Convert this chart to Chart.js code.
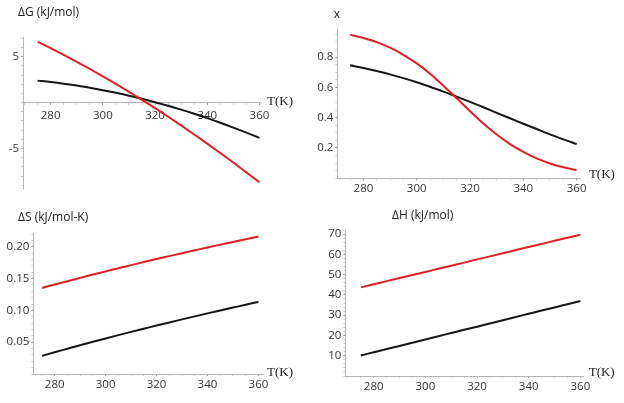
<!DOCTYPE html>
<html>
<head>
<meta charset="utf-8">
<script src="https://cdn.jsdelivr.net/npm/chart.js@4.4.1/dist/chart.umd.min.js"></script>
<style>
  body { margin: 0; background: #fff; }
  #wrap { position: relative; width: 624px; height: 403px; }
  canvas { position: absolute; }
</style>
</head>
<body>
<div id="wrap">
  <canvas id="panelG" width="312" height="200" style="left:0;top:0"></canvas>
  <canvas id="panelX" width="312" height="200" style="left:312px;top:0"></canvas>
  <canvas id="panelS" width="312" height="203" style="left:0;top:200px"></canvas>
  <canvas id="panelH" width="312" height="203" style="left:312px;top:200px"></canvas>
</div>
<script>
const temps = [275, 280, 285, 290, 295, 300, 305, 310, 315, 320, 325, 330, 335, 340, 345, 350, 355, 360];

// free energy (kJ/mol)
const dGred   = [6.62, 5.92, 5.19, 4.44, 3.66, 2.86, 2.03, 1.17, 0.29, -0.61, -1.54, -2.49, -3.47, -4.47, -5.49, -6.53, -7.60, -8.68];
const dGblack = [2.39, 2.24, 2.06, 1.85, 1.62, 1.35, 1.06, 0.75, 0.41, 0.04, -0.35, -0.77, -1.22, -1.69, -2.19, -2.72, -3.27, -3.84];

// fraction x
const xRed   = [0.948, 0.926, 0.899, 0.862, 0.815, 0.758, 0.690, 0.611, 0.528, 0.443, 0.362, 0.289, 0.226, 0.174, 0.131, 0.098, 0.073, 0.054];
const xBlack = [0.746, 0.728, 0.708, 0.686, 0.661, 0.634, 0.604, 0.572, 0.539, 0.504, 0.469, 0.432, 0.396, 0.360, 0.325, 0.290, 0.257, 0.226];

// entropy (kJ/mol-K)
const dSred   = [0.1352, 0.1406, 0.1459, 0.1511, 0.1563, 0.1613, 0.1663, 0.1711, 0.1759, 0.1807, 0.1853, 0.1899, 0.1944, 0.1989, 0.2032, 0.2075, 0.2118, 0.2160];
const dSblack = [0.0285, 0.0342, 0.0397, 0.0452, 0.0506, 0.0559, 0.0611, 0.0662, 0.0712, 0.0762, 0.0811, 0.0859, 0.0906, 0.0953, 0.0999, 0.1044, 0.1089, 0.1133];

// enthalpy (kJ/mol)
const dHred   = [43.7, 45.2, 46.8, 48.3, 49.8, 51.3, 52.9, 54.4, 55.9, 57.5, 59.0, 60.5, 62.1, 63.6, 65.1, 66.7, 68.2, 69.7];
const dHblack = [10.1, 11.7, 13.3, 14.8, 16.4, 18.0, 19.6, 21.2, 22.8, 24.3, 25.9, 27.5, 29.1, 30.7, 32.3, 33.8, 35.4, 37.0];

// tick labels
const tempTicks = [280, 300, 320, 340, 360];
const gTicks = [-5, 5];
const xTicks = [0.2, 0.4, 0.6, 0.8];
const sTicks = [0.05, 0.10, 0.15, 0.20];
const hTicks = [10, 20, 30, 40, 50, 60, 70];

const xTitle = 'T(K)';
const RED = '#dd1f26';
const BLACK = '#151515';
const tickFont = { family: '"Open Sans", sans-serif', size: 11.5 };

function findTick(list, v) {
  return list.find(t => Math.abs(t - v) < 1e-6);
}

// draws the panel title and the T(K) label at the end of the axis
const panelText = {
  id: 'panelText',
  afterDraw(chart, args, o) {
    const ctx = chart.ctx;
    ctx.save();
    ctx.fillStyle = '#222';
    ctx.textBaseline = 'middle';
    ctx.font = '12px "Open Sans", sans-serif';
    ctx.textAlign = o.titleAlign;
    ctx.fillText(o.title, o.titleX, o.titleY);
    ctx.font = '13px "Liberation Serif", serif';
    ctx.textAlign = 'left';
    const y = chart.scales.y.getPixelForValue(0);
    ctx.fillText(xTitle, chart.chartArea.right + o.unitGap, y + o.unitDy);
    ctx.restore();
  }
};

function makePanel(id, p) {
  const pts = arr => temps.map((t, i) => ({ x: t, y: arr[i] }));
  const tickColor = (list, fmt) => ctx => (ctx.tick && fmt(ctx.tick.value) !== '' ? '#999' : '#cfcfcf');
  const xFmt = v => (findTick(tempTicks, v) !== undefined ? String(v) : '');
  const yFmt = v => {
    const t = findTick(p.yTicks, v);
    return t !== undefined ? t.toFixed(p.yDigits) : '';
  };
  new Chart(document.getElementById(id), {
    type: 'line',
    data: {
      datasets: [
        { data: pts(p.red), borderColor: RED },
        { data: pts(p.black), borderColor: BLACK }
      ]
    },
    options: {
      responsive: false,
      animation: false,
      events: [],
      layout: { padding: p.padding },
      elements: {
        point: { radius: 0 },
        line: { borderWidth: 2, cubicInterpolationMode: 'monotone' }
      },
      plugins: {
        legend: { display: false },
        tooltip: { enabled: false },
        panelText: p.text
      },
      scales: {
        x: {
          type: 'linear',
          position: p.xPosition,
          min: p.xMin,
          max: p.xMax,
          afterFit: s => { s.height = p.xHeight; },
          border: { color: '#b5b5b5' },
          grid: { drawOnChartArea: false, tickLength: 2, tickColor: tickColor(tempTicks, xFmt) },
          ticks: {
            stepSize: 5, autoSkip: false, includeBounds: false, maxRotation: 0,
            padding: p.xPad, color: '#333', font: tickFont, callback: xFmt
          }
        },
        y: {
          min: p.yMin,
          max: p.yMax,
          afterFit: s => { s.width = p.yWidth; },
          border: { color: '#b5b5b5' },
          grid: { drawOnChartArea: false, tickLength: 2, tickColor: tickColor(p.yTicks, yFmt) },
          ticks: {
            stepSize: p.yStep, autoSkip: false, includeBounds: false,
            padding: 2, color: '#333', font: tickFont, callback: yFmt
          }
        }
      }
    },
    plugins: [panelText]
  });
}

makePanel('panelG', {
  red: dGred, black: dGblack,
  xMin: 269.4, xMax: 360.6, yMin: -9.3, yMax: 7.14, yStep: 1,
  yTicks: gTicks, yDigits: 0,
  xPosition: { y: 0 }, xHeight: 0, xPad: 4, yWidth: 23,
  padding: { left: 0, top: 37, right: 51, bottom: 12 },
  text: { title: '\u0394G (kJ/mol)', titleX: 18, titleY: 13, titleAlign: 'left', unitGap: 6, unitDy: -1 }
});

makePanel('panelX', {
  red: xRed, black: xBlack,
  xMin: 270.2, xMax: 361.6, yMin: 0, yMax: 0.98, yStep: 0.05,
  yTicks: xTicks, yDigits: 1,
  xPosition: 'bottom', xHeight: 20, xPad: 2, yWidth: 25.3,
  padding: { left: 0, top: 29.8, right: 43.1, bottom: 1.7 },
  text: { title: 'x', titleX: 25, titleY: 15, titleAlign: 'center', unitGap: 8, unitDy: -4 }
});

makePanel('panelS', {
  red: dSred, black: dSblack,
  xMin: 271.6, xMax: 361.8, yMin: 0, yMax: 0.221, yStep: 0.01,
  yTicks: sTicks, yDigits: 2,
  xPosition: 'bottom', xHeight: 20, xPad: 2, yWidth: 33.3,
  padding: { left: 0, top: 33.4, right: 49, bottom: 9 },
  text: { title: '\u0394S (kJ/mol-K)', titleX: 18, titleY: 18, titleAlign: 'left', unitGap: 4, unitDy: -1.5 }
});

makePanel('panelH', {
  red: dHred, black: dHblack,
  xMin: 269.0, xMax: 361.3, yMin: 0, yMax: 72, yStep: 2,
  yTicks: hTicks, yDigits: 0,
  xPosition: 'bottom', xHeight: 20, xPad: 2, yWidth: 33.3,
  padding: { left: 0, top: 30, right: 40.3, bottom: 7 },
  text: { title: '\u0394H (kJ/mol)', titleX: 80, titleY: 16, titleAlign: 'left', unitGap: 5, unitDy: -3.5 }
});
</script>
</body>
</html>
